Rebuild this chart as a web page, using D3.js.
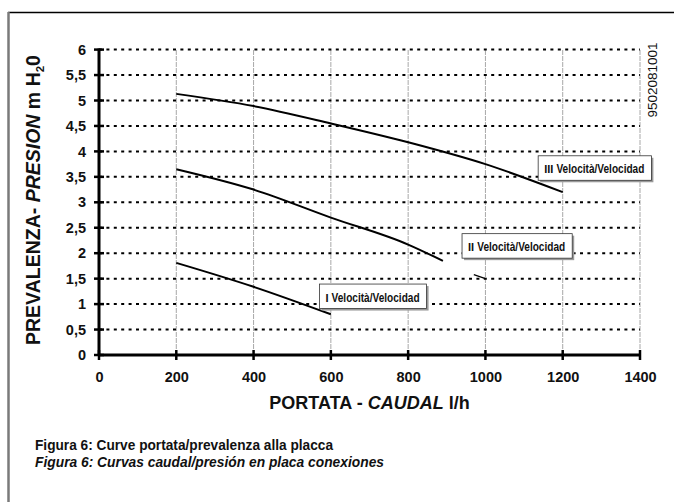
<!DOCTYPE html>
<html>
<head>
<meta charset="utf-8">
<script src="https://cdn.jsdelivr.net/npm/d3@7"></script>
<style>
  body { margin: 0; background: #fff; }
  svg text { font-family: "Liberation Sans", Arial, sans-serif; fill: #111; }
  .narrow { font-family: "Liberation Sans Narrow", "Arial Narrow", "Liberation Sans", sans-serif; font-weight: bold; }
</style>
</head>
<body>
<div id="chart"></div>
<script>
// values (flow l/h, head m H2O)
const xTicks = [0, 200, 400, 600, 800, 1000, 1200, 1400];
const yTicks = [0, 0.5, 1, 1.5, 2, 2.5, 3, 3.5, 4, 4.5, 5, 5.5, 6];

const flowI = [200, 400, 600];
const headI = [1.81, 1.34, 0.80];
const flowII = [200, 400, 600, 800, 890];
const headII = [3.65, 3.25, 2.70, 2.17, 1.85];
const flowIII = [200, 400, 600, 800, 1000, 1200];
const headIII = [5.13, 4.89, 4.55, 4.18, 3.75, 3.20];

const speedNames = ["I", "II", "III"];
const labelText = "Velocità/Velocidad";
// label box anchor (left edge flow, baseline head) per speed
const labelFlow = [586, 955, 1152];
const labelHead = [1.05, 2.04, 3.57];

let margin = {top: 49.6, left: 99};
let width = 541, height = 305.4;

let svg = d3.select("#chart").append("svg")
    .attr("width", 674)
    .attr("height", 502);

svg.append("rect").attr("width", 674).attr("height", 502).attr("fill", "#fff");

// outer frame (top + left edge only)
svg.append("line").attr("x1", 8).attr("x2", 674).attr("y1", 12.5).attr("y2", 12.5)
    .attr("stroke", "#000").attr("stroke-width", 1.5);
svg.append("line").attr("x1", 8.5).attr("x2", 8.5).attr("y1", 12).attr("y2", 502)
    .attr("stroke", "#7a7a7a").attr("stroke-width", 2.5);

let g = svg.append("g")
    .attr("transform", "translate(" + margin.left + "," + margin.top + ")");

let x = d3.scaleLinear().domain([0, 1400]).range([0, width]);
let y = d3.scaleLinear().domain([0, 6]).range([height, 0]);

// vertical grid (faint grey)
g.append("g").selectAll("line")
    .data(xTicks.filter(d => d > 0))
    .join("line")
    .attr("x1", d => x(d)).attr("x2", d => x(d))
    .attr("y1", y(0)).attr("y2", y(6))
    .attr("stroke", "#a8a8a8").attr("stroke-width", 1)
    .attr("stroke-dasharray", "5,1");

// horizontal grid (black dotted)
g.append("g").selectAll("line")
    .data(yTicks.filter(d => d > 0))
    .join("line")
    .attr("x1", 0).attr("x2", x(1400))
    .attr("y1", d => y(d)).attr("y2", d => y(d))
    .attr("stroke", "#000").attr("stroke-width", 2)
    .attr("stroke-dasharray", "3,4.4");

// axes
let yAxis = d3.axisLeft(y).tickValues(yTicks).tickSize(0).tickPadding(13)
    .tickFormat(d => String(d).replace(".", ","));
let xAxis = d3.axisBottom(x).tickValues(xTicks).tickSize(0).tickPadding(17)
    .tickFormat(d => String(d));

let ya = g.append("g").call(yAxis);
let xa = g.append("g").attr("transform", "translate(0," + height + ")").call(xAxis);
[ya, xa].forEach(a => {
    a.select(".domain").remove();
    a.selectAll("text").attr("font-size", 14.5).attr("font-weight", "bold")
        .attr("font-family", "Liberation Sans, Arial, sans-serif").attr("fill", "#111");
});

// thick axis lines and cross ticks
g.append("line").attr("x1", 0).attr("x2", 0).attr("y1", y(0)).attr("y2", y(6) - 1)
    .attr("stroke", "#000").attr("stroke-width", 3);
g.append("line").attr("x1", -1).attr("x2", x(1400)).attr("y1", y(0)).attr("y2", y(0))
    .attr("stroke", "#000").attr("stroke-width", 3);
g.append("g").selectAll("line").data(yTicks).join("line")
    .attr("x1", -5).attr("x2", 5).attr("y1", d => y(d)).attr("y2", d => y(d))
    .attr("stroke", "#000").attr("stroke-width", 2.5);
g.append("g").selectAll("line").data(xTicks).join("line")
    .attr("x1", d => x(d)).attr("x2", d => x(d)).attr("y1", y(0) - 5).attr("y2", y(0) + 5)
    .attr("stroke", "#000").attr("stroke-width", 2.5);

// curves
let series = [
    flowI.map((f, i) => ({f: f, h: headI[i]})),
    flowII.map((f, i) => ({f: f, h: headII[i]})),
    flowIII.map((f, i) => ({f: f, h: headIII[i]}))
];
let line = d3.line().curve(d3.curveMonotoneX).x(d => x(d.f)).y(d => y(d.h));
g.selectAll(".curve").data(series).join("path")
    .attr("class", "curve")
    .attr("d", line)
    .attr("fill", "none").attr("stroke", "#000").attr("stroke-width", 2);

// small arrow under II label
g.append("line")
    .attr("x1", x(970)).attr("y1", y(1.58))
    .attr("x2", x(1000)).attr("y2", y(1.5))
    .attr("stroke", "#000").attr("stroke-width", 1.2);

// boxed labels
speedNames.forEach((name, i) => {
    let lg = g.append("g").attr("transform", "translate(" + x(labelFlow[i]) + "," + y(labelHead[i]) + ")");
    let t = lg.append("text").attr("class", "narrow").attr("font-size", 13.5);
    t.append("tspan").attr("font-size", 11).text(name + " ");
    t.append("tspan").text(labelText).attr("textLength", 88).attr("lengthAdjust", "spacingAndGlyphs");
    let bb = t.node().getBBox();
    let bx = bb.x - 6, by = -17.5, bw = bb.width + 13, bh = 24.5;
    lg.insert("rect", "text").attr("x", bx + 2).attr("y", by + 2).attr("width", bw).attr("height", bh)
        .attr("fill", "#9a9a9a");
    lg.insert("rect", "text").attr("x", bx).attr("y", by).attr("width", bw).attr("height", bh)
        .attr("fill", "#fff").attr("stroke", "#333").attr("stroke-width", 0.8);
});

// axis titles
svg.append("text")
    .attr("x", margin.left + width / 2).attr("y", 409)
    .attr("text-anchor", "middle").attr("font-size", 18).attr("font-weight", "bold")
    .call(t => {
        t.append("tspan").text("PORTATA - ");
        t.append("tspan").attr("font-style", "italic").text("CAUDAL");
        t.append("tspan").text(" l/h");
    });

svg.append("text")
    .attr("transform", "translate(40,200) rotate(-90)")
    .attr("text-anchor", "middle").attr("font-size", 19.5).attr("font-weight", "bold")
    .call(t => {
        t.append("tspan").text("PREVALENZA- ");
        t.append("tspan").attr("font-style", "italic").text("PRESION");
        t.append("tspan").text(" m H");
        t.append("tspan").attr("font-size", 11.5).attr("dy", 4).text("2");
        t.append("tspan").attr("dy", -4).text("0");
    });

// drawing code at right
svg.append("text")
    .attr("transform", "translate(657,80) rotate(-90)")
    .attr("text-anchor", "middle").attr("font-size", 12.5)
    .attr("textLength", 75).attr("lengthAdjust", "spacingAndGlyphs")
    .text("9502081001");

// caption
svg.append("text").attr("x", 35).attr("y", 450)
    .attr("font-size", 15).attr("font-weight", "bold")
    .attr("textLength", 298).attr("lengthAdjust", "spacingAndGlyphs")
    .text("Figura 6: Curve portata/prevalenza alla placca");
svg.append("text").attr("x", 35).attr("y", 467)
    .attr("font-size", 15).attr("font-weight", "bold").attr("font-style", "italic")
    .attr("textLength", 349).attr("lengthAdjust", "spacingAndGlyphs")
    .text("Figura 6: Curvas caudal/presión en placa conexiones");
</script>
</body>
</html>
